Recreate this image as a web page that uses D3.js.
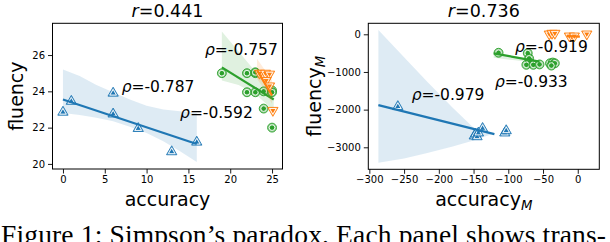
<!DOCTYPE html>
<html>
<head>
<meta charset="utf-8">
<script src="https://cdn.jsdelivr.net/npm/d3@7"></script>
<style>
  html, body { margin: 0; padding: 0; background: #fff; }
  svg { display: block; }
  .sans { font-family: "DejaVu Sans", sans-serif; }
  .serif { font-family: "Liberation Serif", "Times New Roman", serif; }
</style>
</head>
<body>
<svg id="chart" width="610" height="242"></svg>
<script>
// ---------------- data ----------------
// Left panel: accuracy vs fluency
const blueAccL = [0, 1, 6, 6, 9, 13, 16];
const blueFluL = [22.85, 23.45, 23.9, 22.75, 21.95, 20.67, 21.2];
const greenAccL = [19, 22, 23, 23, 22, 23, 24, 25, 25, 24, 25];
const greenFluL = [25.0, 25.0, 25.0, 25.05, 23.95, 23.95, 24.0, 24.05, 23.95, 23.05, 22.0];
const orangeAccL = [23.5, 24.2, 24.7, 24.3, 24.7, 25.1];
const orangeFluL = [25.0, 25.0, 24.95, 24.6, 24.3, 22.95];

const blueFitLx = [0, 16], blueFitLy = [23.55, 21.1];
const greenFitLx = [19, 25.2], greenFitLy = [25.32, 23.55];
const orangeFitLx = [23.2, 25.0], orangeFitLy = [25.17, 23.77];

const blueBandLx = [0, 2, 4, 6, 8, 10, 12, 14, 16];
const blueBandLhi = [25.2, 24.85, 24.35, 23.95, 23.55, 23.2, 23.0, 22.9, 22.8];
const blueBandLlo = [22.8, 22.7, 22.55, 22.35, 22.05, 21.7, 21.25, 20.7, 20.1];
const greenBandLx = [19, 21, 23, 25.2];
const greenBandLhi = [27.3, 26.2, 25.1, 24.2];
const greenBandLlo = [24.6, 24.35, 23.85, 22.95];
const orangeBandLx = [23.2, 24.1, 25.0];
const orangeBandLhi = [25.8, 25.2, 24.6];
const orangeBandLlo = [24.7, 24.1, 23.3];

// Right panel: accuracy_M vs fluency_M
const blueAccR = [-259, -149, -147, -145, -143, -137, -105, -103];
const blueFluR = [-1920, -2700, -2650, -2720, -2620, -2500, -2620, -2560];
const greenAccR = [-114, -72, -70, -69, -74, -64, -55, -40, -36, -33, -38];
const greenFluR = [-490, -500, -640, -750, -810, -810, -800, -770, -750, -770, -830];
const orangeAccR = [-41, -37, -33, -12, -5, 13];
const orangeFluR = [8, 27, 27, -45, -45, 8];

const blueFitRx = [-287, -120], blueFitRy = [-1880, -2650];
const greenFitRx = [-121, -55], greenFitRy = [-505, -727];
const orangeFitRx = [-16, 3], orangeFitRy = [-50, -62];

const blueBandRx = [-287, -250, -218, -180, -150, -141, -125];
const blueBandRhi = [114, -610, -1230, -1950, -2480, -2560, -2640];
const blueBandRlo = [-3408, -3300, -3160, -2980, -2820, -2760, -2660];
const greenBandRx = [-121, -90, -55];
const greenBandRhi = [-480, -590, -700];
const greenBandRlo = [-620, -690, -770];
const orangeBandRx = [-16, 3];
const orangeBandRhi = [-30, -40];
const orangeBandRlo = [-70, -85];

// ticks
const xTicksL = [0, 5, 10, 15, 20, 25];
const yTicksL = [20, 22, 24, 26];
const xTicksR = [-300, -250, -200, -150, -100, -50, 0];
const yTicksR = [0, -1000, -2000, -3000];

// texts
const titlesRV = ["0.441", "0.736"];
const rhoL = [["-0.787", 7.02, 23.98], ["-0.757", 16.98, 26.0], ["-0.592", 14.0, 22.51]];
const rhoR = [["-0.919", -90.4, -462], ["-0.933", -119.2, -1407], ["-0.979", -239.1, -1744]];
const caption = "Figure 1: Simpson\u2019s paradox. Each panel shows trans-";

// ---------------- drawing ----------------
const COLORS = { blue: "#1f77b4", orange: "#ff7f0e", green: "#2ca02c" };
const svg = d3.select("#chart");

function zip(a, b) { return a.map((v, i) => [v, b[i]]); }
function fmt(v) { return String(v).replace("-", "\u2212"); }

function panel(cfg) {
  const g = svg.append("g").attr("class", "sans");
  const x = d3.scaleLinear().domain(cfg.xDom).range([cfg.x0, cfg.x1]);
  const y = d3.scaleLinear().domain(cfg.yDom).range([cfg.y1, cfg.y0]);

  const clipId = "clip" + cfg.id;
  svg.append("clipPath").attr("id", clipId).append("rect")
    .attr("x", cfg.x0).attr("y", cfg.y0).attr("width", cfg.x1 - cfg.x0).attr("height", cfg.y1 - cfg.y0);
  const plot = g.append("g").attr("clip-path", `url(#${clipId})`);

  cfg.series.forEach(s => {
    const col = COLORS[s.color];
    const band = s.bandX.map((v, i) => [v, s.bandLo[i], s.bandHi[i]]);
    plot.append("path").datum(band)
      .attr("d", d3.area().x(d => x(d[0])).y0(d => y(d[1])).y1(d => y(d[2])))
      .attr("fill", col).attr("fill-opacity", 0.15).attr("stroke", "none");
    const pts = zip(s.xs, s.ys);
    const type = s.marker === "circle" ? d3.symbolCircle : d3.symbolTriangle;
    const rot = s.marker === "down" ? 180 : 0;
    const big = s.marker === "circle" ? 62 : 46;
    const pg = plot.append("g").selectAll("g").data(pts).join("g")
      .attr("transform", d => `translate(${x(d[0])},${y(d[1])}) rotate(${rot})`);
    pg.append("path").attr("d", d3.symbol().type(type).size(big)())
      .attr("fill", col).attr("fill-opacity", 0.5).attr("stroke", col).attr("stroke-width", 0.9);
    pg.append("path").attr("d", d3.symbol().type(type).size(big * 0.4)())
      .attr("fill", col).attr("stroke", "#fff").attr("stroke-width", 0.9);
    plot.append("path").datum(zip(s.fitX, s.fitY))
      .attr("d", d3.line().x(d => x(d[0])).y(d => y(d[1])))
      .attr("fill", "none").attr("stroke", col).attr("stroke-width", 2.2);
  });

  g.append("rect").attr("x", cfg.x0).attr("y", cfg.y0)
    .attr("width", cfg.x1 - cfg.x0).attr("height", cfg.y1 - cfg.y0)
    .attr("fill", "none").attr("stroke", "#000").attr("stroke-width", 1);

  const xa = g.append("g").attr("transform", `translate(0,${cfg.y1})`)
    .call(d3.axisBottom(x).tickValues(cfg.xTicks).tickFormat(fmt).tickSizeInner(4.5).tickSizeOuter(0).tickPadding(2.5));
  const ya = g.append("g").attr("transform", `translate(${cfg.x0},0)`)
    .call(d3.axisLeft(y).tickValues(cfg.yTicks).tickFormat(fmt).tickSizeInner(4.5).tickSizeOuter(0).tickPadding(3));
  [xa, ya].forEach(a => {
    a.attr("font-family", null).attr("font-size", null);
    a.select(".domain").remove();
    a.selectAll("text").attr("class", "sans").attr("font-size", 10).attr("fill", "#000");
    a.selectAll("line").attr("stroke", "#000").attr("stroke-width", 0.9);
  });

  const cx = (cfg.x0 + cfg.x1) / 2, cy = (cfg.y0 + cfg.y1) / 2;
  const t = g.append("text").attr("x", cx).attr("y", 17).attr("text-anchor", "middle")
    .attr("font-size", 17.5).attr("fill", "#000");
  t.append("tspan").attr("font-style", "italic").text("r");
  t.append("tspan").text("=" + cfg.title);

  const xl = g.append("text").attr("x", cx).attr("y", 206).attr("text-anchor", "middle")
    .attr("font-size", 19).attr("fill", "#000");
  xl.append("tspan").text("accuracy");
  if (cfg.sub) xl.append("tspan").attr("font-style", "italic").attr("font-size", 13.3).attr("dy", 3.5).text("M");

  const yl = g.append("text").attr("transform", `translate(${cfg.ylx},${cy}) rotate(-90)`)
    .attr("text-anchor", "middle").attr("font-size", 19).attr("fill", "#000");
  yl.append("tspan").text("fluency");
  if (cfg.sub) yl.append("tspan").attr("font-style", "italic").attr("font-size", 13.3).attr("dy", 3.5).text("M");

  cfg.rho.forEach(r => {
    const tx = g.append("text").attr("x", x(r[1])).attr("y", y(r[2]))
      .attr("font-size", 15.5).attr("fill", "#000");
    tx.append("tspan").attr("font-style", "italic").text("\u03C1");
    tx.append("tspan").text("=" + r[0]);
  });
}

panel({
  id: "L", x0: 52.5, x1: 282.5, y0: 23.3, y1: 169,
  xDom: [-1.25, 26.25], yDom: [19.72, 27.75],
  xTicks: xTicksL, yTicks: yTicksL, title: titlesRV[0], ylx: 23, sub: false, rho: rhoL,
  series: [
    { color: "blue", marker: "up", xs: blueAccL, ys: blueFluL, fitX: blueFitLx, fitY: blueFitLy, bandX: blueBandLx, bandHi: blueBandLhi, bandLo: blueBandLlo },
    { color: "green", marker: "circle", xs: greenAccL, ys: greenFluL, fitX: greenFitLx, fitY: greenFitLy, bandX: greenBandLx, bandHi: greenBandLhi, bandLo: greenBandLlo },
    { color: "orange", marker: "down", xs: orangeAccL, ys: orangeFluL, fitX: orangeFitLx, fitY: orangeFitLy, bandX: orangeBandLx, bandHi: orangeBandLhi, bandLo: orangeBandLlo }
  ]
});

panel({
  id: "R", x0: 368.3, x1: 599.3, y0: 23.3, y1: 169.3,
  xDom: [-301.5, 31], yDom: [-3584, 292],
  xTicks: xTicksR, yTicks: yTicksR, title: titlesRV[1], ylx: 321, sub: true, rho: rhoR,
  series: [
    { color: "blue", marker: "up", xs: blueAccR, ys: blueFluR, fitX: blueFitRx, fitY: blueFitRy, bandX: blueBandRx, bandHi: blueBandRhi, bandLo: blueBandRlo },
    { color: "green", marker: "circle", xs: greenAccR, ys: greenFluR, fitX: greenFitRx, fitY: greenFitRy, bandX: greenBandRx, bandHi: greenBandRhi, bandLo: greenBandRlo },
    { color: "orange", marker: "down", xs: orangeAccR, ys: orangeFluR, fitX: orangeFitRx, fitY: orangeFitRy, bandX: orangeBandRx, bandHi: orangeBandRhi, bandLo: orangeBandRlo }
  ]
});

// caption (cut at the bottom edge, as in the reference)
svg.append("text").attr("class", "serif").attr("x", 1).attr("y", 243.5)
  .attr("font-size", 27.5)
  .attr("fill", "#000").attr("textLength", 605).attr("lengthAdjust", "spacing")
  .text(caption);
</script>
</body>
</html>
